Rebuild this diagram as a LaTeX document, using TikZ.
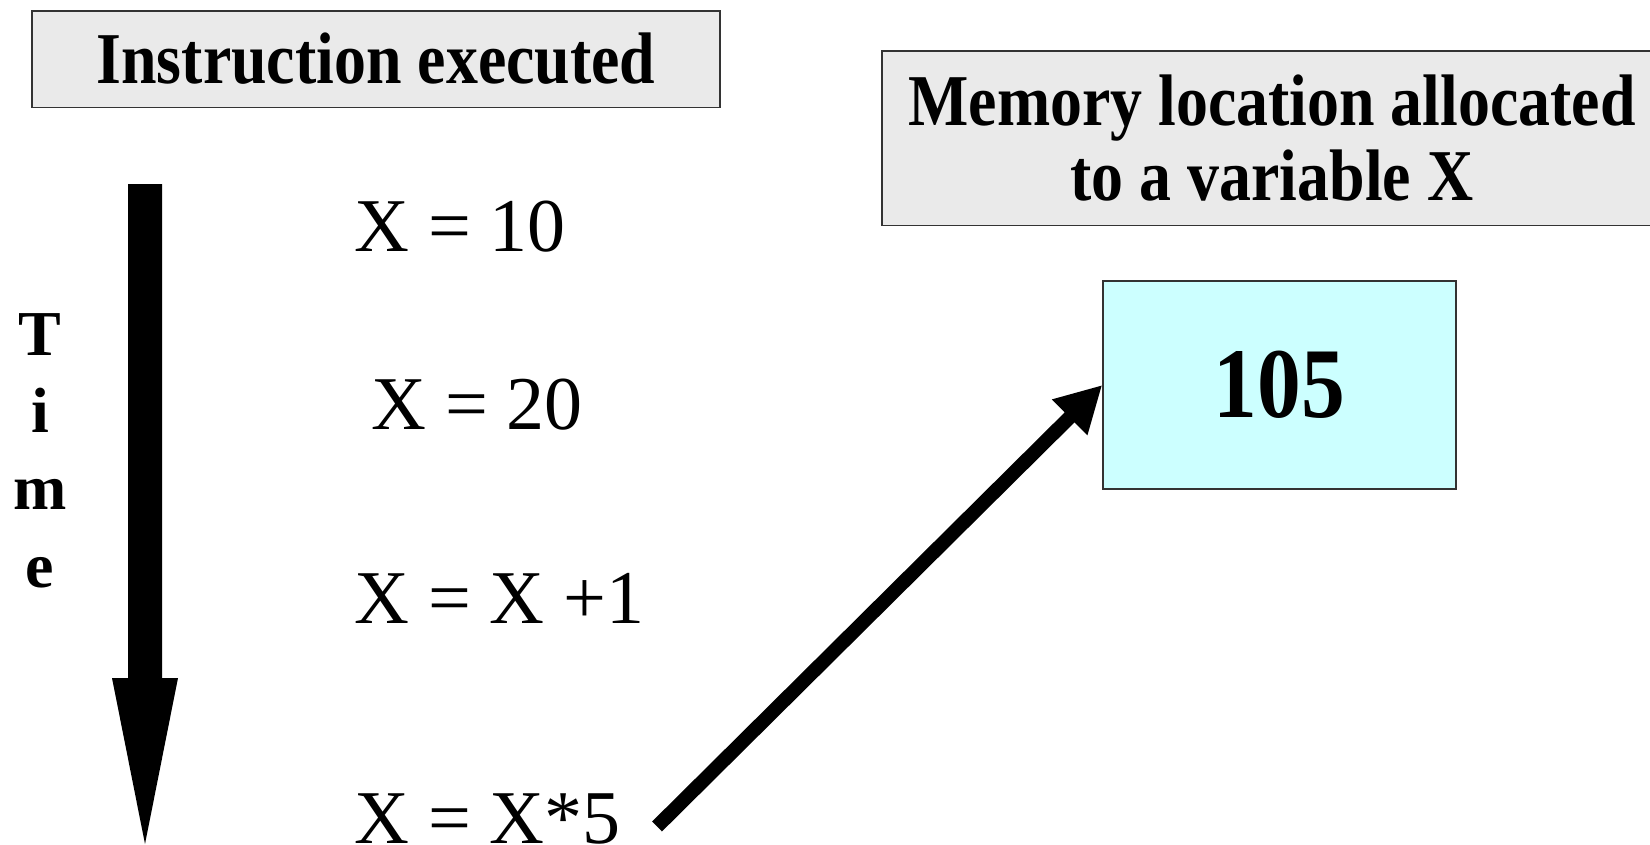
\documentclass[tikz,border=0pt]{standalone}
\usepackage{fontspec}
\setmainfont{Liberation Serif}
\newfontfamily\headfont[FakeStretch=0.875]{Liberation Serif}
\usetikzlibrary{arrows.meta}
\definecolor{boxgray}{HTML}{EAEAEA}
\definecolor{memcyan}{HTML}{CCFFFF}
\begin{document}
\begin{tikzpicture}[x=1pt,y=-1pt,
  hbox/.style={draw=black!80, line width=1.5pt, fill=boxgray, inner sep=0pt},
  headtext/.style={font={\headfont\bfseries\fontsize{73}{75}\selectfont}},
  instr/.style={anchor=base west, inner sep=0pt, font={\fontsize{76}{80}\selectfont}},
  timelet/.style={anchor=base, inner sep=0pt, font={\bfseries\fontsize{64}{64}\selectfont}},
  bigarrow/.style={line width=14pt, -{Triangle[length=46pt,width=47pt]}}]
\useasboundingbox (0,0) rectangle (1650,844);
% heading boxes
\node[hbox, headtext, minimum width=688pt, minimum height=96.5pt] (head) at (376,59) {Instruction executed};
\node[hbox, headtext, align=center, minimum width=780pt, minimum height=174.5pt] (mem) at (1272,138) {Memory location allocated\\to a variable X};
% memory cell
\node[draw=black!80, line width=1.5pt, fill=memcyan, inner sep=0pt, minimum width=353pt, minimum height=208pt,
  font={\headfont\bfseries\fontsize{100}{100}\selectfont}] (val) at (1279.5,385) {105};
% time arrow
\fill (128,184) -- (162,184) -- (162,678) -- (178,678) -- (145,844) -- (112,678) -- (128,678) -- cycle;
\node[timelet] (tT) at (40,355) {T};
\node[timelet] (ti) at (40,432) {i};
\node[timelet] (tm) at (40,509) {m};
\node[timelet] (te) at (40,587) {e};
% instructions
\node[instr] (i1) at (354,251) {X = 10};
\node[instr] (i2) at (371,429) {X = 20};
\node[instr] (i3) at (354,623) {X = X +1};
\node[instr] (i4) at (354,843) {X = X*5};
% connector
\coordinate (s) at ([xshift=36pt,yshift=-8pt]i4.east);
\draw[bigarrow] (s) -- (val.west);
\end{tikzpicture}
\end{document}
